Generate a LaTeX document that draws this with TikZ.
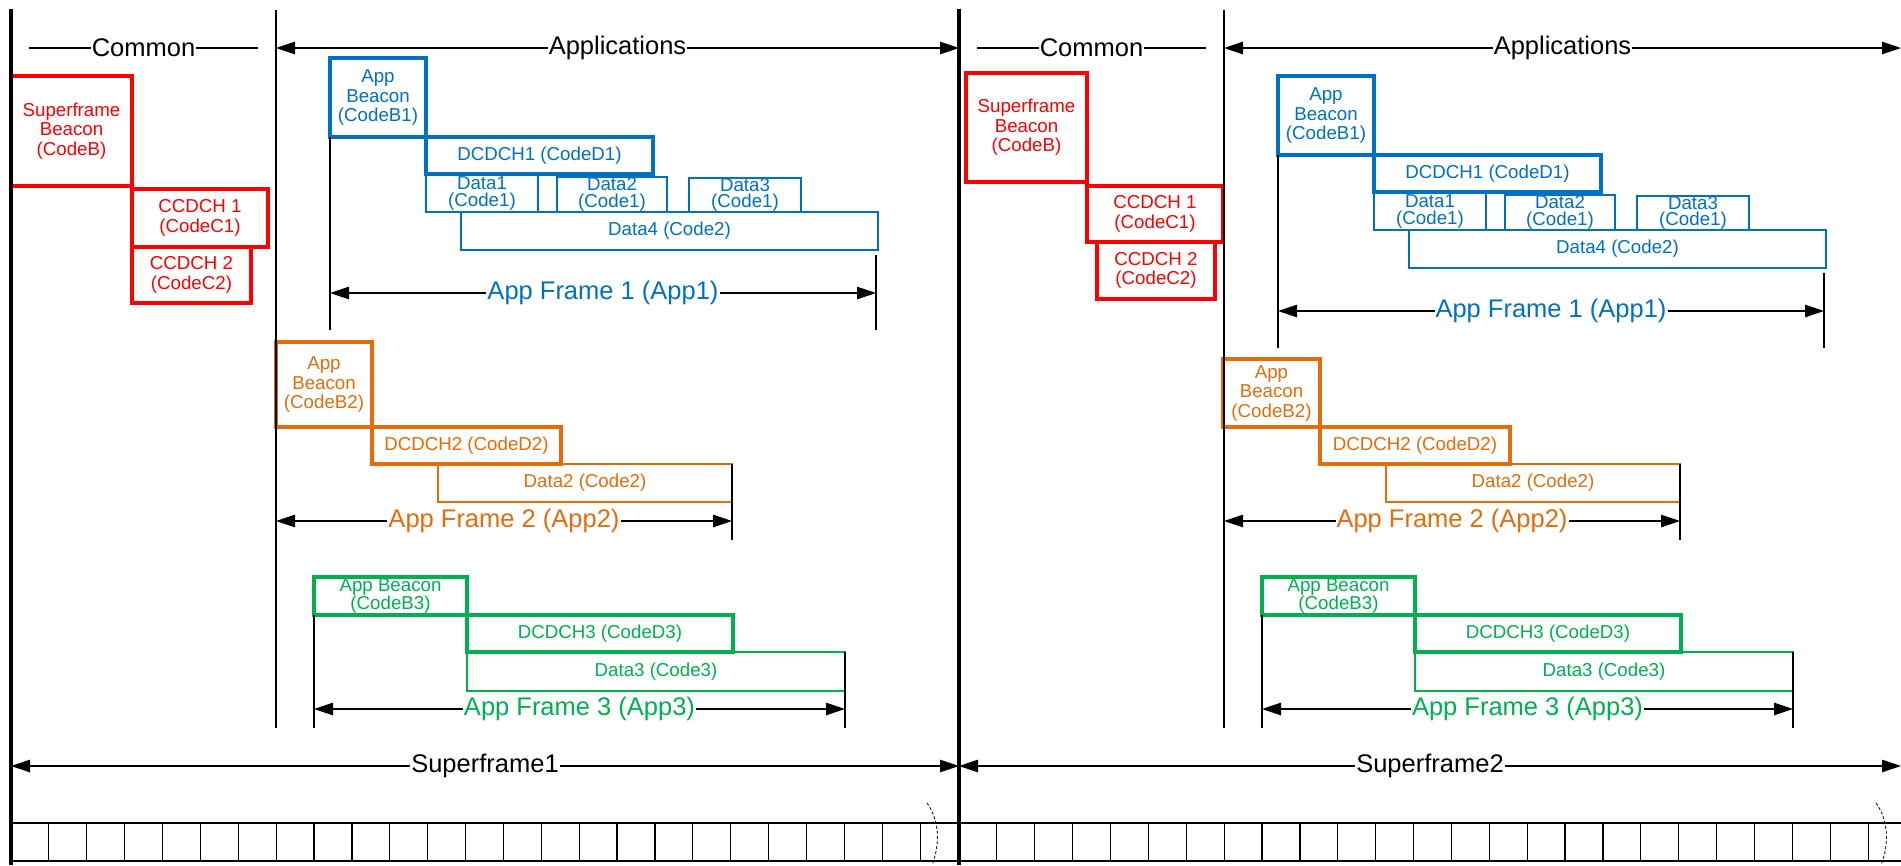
\documentclass[tikz,border=0pt]{standalone}
\usepackage{fontspec}
\setmainfont{Liberation Sans}
\usetikzlibrary{arrows.meta}

\definecolor{sfred}{RGB}{255,0,0}
\definecolor{appblue}{RGB}{0,112,192}
\definecolor{apporange}{RGB}{228,108,10}
\definecolor{appgreen}{RGB}{0,176,80}

\tikzset{
  chanbox/.style={draw=#1, text=#1, line width=3.3pt, inner sep=0pt, outer sep=0pt, align=center, font=\fontsize{18.7}{19.5}\selectfont},
  slotbox/.style={draw=#1, text=#1, line width=1.2pt, inner sep=0pt, outer sep=0pt, align=center, font=\fontsize{18.7}{19.5}\selectfont},
  tightlead/.style={font=\fontsize{18.7}{16.5}\selectfont},
  biglabel/.style={font=\fontsize{25.5}{25.5}\selectfont, fill=white, inner sep=1pt},
  spanarrow/.style={line width=1.2pt, {Triangle[length=19pt,width=12.5pt]}-{Triangle[length=19pt,width=12.5pt]}},
  thinrule/.style={line width=1.2pt},
  thickrule/.style={line width=3.3pt},
}

\begin{document}
\begin{tikzpicture}[x=1pt,y=-1pt]
	\path[use as bounding box, fill=white] (0,0) rectangle (1901,865);

	% end points of rules and arrows
	\foreach \n/\x/\y in {barAt/11/9, barAb/11/865, barBt/959/9, barBb/959/865,
		divAt/276/10, divAb/276/728, divBt/1224/10, divBb/1224/728,
		cmA1/29/48, cmA2/258/48, apA1/276/48, apA2/959/48,
		cmB1/977/48, cmB2/1206/48, apB1/1224/48, apB2/1901/48,
		sf0/11/766, sf1/959/766, sf2/1901/766,
		fA1a/330/293, fA1b/876/293, fA1L/330/330, fA1Rt/876/255, fA1Rb/876/330,
		fA2a/276/521, fA2b/732/521, fA2Rt/732/464, fA2Rb/732/540,
		fA3a/314/709, fA3b/845/709, fA3L/314/728, fA3Rt/845/652, fA3Rb/845/728,
		fB1a/1278/311, fB1b/1824/311, fB1L/1278/348, fB1Rt/1824/273, fB1Rb/1824/348,
		fB2a/1224/521, fB2b/1680/521, fB2Rt/1680/464, fB2Rb/1680/540,
		fB3a/1262/709, fB3b/1793/709, fB3L/1262/728, fB3Rt/1793/652, fB3Rb/1793/728}
	{	\coordinate (\n) at (\x,\y);
	}

	% superframe 1
	\node[chanbox=sfred, minimum width=121pt, minimum height=110pt] (sbA)  at (71.5,131)  {Superframe\\Beacon\\(CodeB)};
	\node[chanbox=sfred, minimum width=136pt, minimum height=58pt]  (ccA1) at (200,218)   {CCDCH 1\\(CodeC1)};
	\node[chanbox=sfred, minimum width=119pt, minimum height=56pt]  (ccA2) at (191.5,275) {CCDCH 2\\(CodeC2)};

	\node[chanbox=appblue, minimum width=96pt, minimum height=79pt]  (bcnA1) at (378,97.5)  {App\\Beacon\\(CodeB1)};
	\node[chanbox=appblue, minimum width=227pt, minimum height=37pt] (dcA1)  at (539.5,155.5) {DCDCH1 (CodeD1)};
	\node[slotbox=appblue, tightlead, minimum width=112pt, minimum height=37pt] (dA1) at (482,193.5) {Data1\\(Code1)};
	\node[slotbox=appblue, tightlead, minimum width=110pt, minimum height=35pt] (dA2) at (612,194.5) {Data2\\(Code1)};
	\node[slotbox=appblue, tightlead, minimum width=112pt, minimum height=34pt] (dA3) at (745,195)   {Data3\\(Code1)};
	\node[slotbox=appblue, minimum width=417pt, minimum height=38pt] (dA4) at (669.5,231) {Data4 (Code2)};

	\node[chanbox=apporange, minimum width=96pt, minimum height=85pt]  (bcnA2) at (324,384.5)   {App\\Beacon\\(CodeB2)};
	\node[chanbox=apporange, minimum width=189pt, minimum height=37pt] (dcA2)  at (466.5,445.5) {DCDCH2 (CodeD2)};
	\node[slotbox=apporange, minimum width=294pt, minimum height=38pt] (dA5)   at (585,483)     {Data2 (Code2)};

	\node[chanbox=appgreen, tightlead, minimum width=153pt, minimum height=38pt] (bcnA3) at (390.5,596) {App Beacon\\(CodeB3)};
	\node[chanbox=appgreen, minimum width=266pt, minimum height=37pt] (dcA3) at (600,633.5) {DCDCH3 (CodeD3)};
	\node[slotbox=appgreen, minimum width=378pt, minimum height=39pt] (dA6)  at (656,671.5) {Data3 (Code3)};

	% superframe 2
	\node[chanbox=sfred, minimum width=121pt, minimum height=109pt] (sbB)  at (1026.5,127.5) {Superframe\\Beacon\\(CodeB)};
	\node[chanbox=sfred, minimum width=136pt, minimum height=56pt]  (ccB1) at (1155,214)     {CCDCH 1\\(CodeC1)};
	\node[chanbox=sfred, minimum width=118pt, minimum height=57pt]  (ccB2) at (1156,270.5)   {CCDCH 2\\(CodeC2)};

	\node[chanbox=appblue, minimum width=96pt, minimum height=79pt]  (bcnB1) at (1326,115.5)  {App\\Beacon\\(CodeB1)};
	\node[chanbox=appblue, minimum width=227pt, minimum height=37pt] (dcB1)  at (1487.5,173.5) {DCDCH1 (CodeD1)};
	\node[slotbox=appblue, tightlead, minimum width=112pt, minimum height=37pt] (dB1) at (1430,211.5) {Data1\\(Code1)};
	\node[slotbox=appblue, tightlead, minimum width=110pt, minimum height=35pt] (dB2) at (1560,212.5) {Data2\\(Code1)};
	\node[slotbox=appblue, tightlead, minimum width=112pt, minimum height=34pt] (dB3) at (1693,213)   {Data3\\(Code1)};
	\node[slotbox=appblue, minimum width=417pt, minimum height=38pt] (dB4) at (1617.5,249) {Data4 (Code2)};

	\node[chanbox=apporange, minimum width=97pt, minimum height=68pt]  (bcnB2) at (1271.5,393) {App\\Beacon\\(CodeB2)};
	\node[chanbox=apporange, minimum width=190pt, minimum height=37pt] (dcB2)  at (1415,445.5) {DCDCH2 (CodeD2)};
	\node[slotbox=apporange, minimum width=294pt, minimum height=38pt] (dB5)   at (1533,483)   {Data2 (Code2)};

	\node[chanbox=appgreen, tightlead, minimum width=153pt, minimum height=38pt] (bcnB3) at (1338.5,596) {App Beacon\\(CodeB3)};
	\node[chanbox=appgreen, minimum width=266pt, minimum height=37pt] (dcB3) at (1548,633.5) {DCDCH3 (CodeD3)};
	\node[slotbox=appgreen, minimum width=378pt, minimum height=39pt] (dB6)  at (1604,671.5) {Data3 (Code3)};

	% vertical rules
	\foreach \u/\v in {barAt/barAb, barBt/barBb}
	{	\draw[thickrule] (\u) -- (\v);
	}
	\foreach \u/\v in {divAt/divAb, divBt/divBb, bcnA1.south west/fA1L, fA1Rt/fA1Rb, fA2Rt/fA2Rb,
		bcnA3.south west/fA3L, fA3Rt/fA3Rb, bcnB1.south west/fB1L, fB1Rt/fB1Rb, fB2Rt/fB2Rb,
		bcnB3.south west/fB3L, fB3Rt/fB3Rb}
	{	\draw[thinrule] (\u) -- (\v);
	}

	% labelled spans
	\foreach \u/\v in {cmA1/cmA2, cmB1/cmB2}
	{	\draw[thinrule] (\u) -- (\v) node[midway, biglabel] {Common};
	}
	\foreach \u/\v/\lab in {apA1/apA2/Applications, apB1/apB2/Applications, sf0/sf1/Superframe1, sf1/sf2/Superframe2}
	{	\draw[spanarrow] (\u) -- (\v) node[midway, biglabel] {\lab};
	}
	\def\framespans{fA1a/fA1b/appblue/App Frame 1 (App1), fA2a/fA2b/apporange/App Frame 2 (App2),
		fA3a/fA3b/appgreen/App Frame 3 (App3), fB1a/fB1b/appblue/App Frame 1 (App1),
		fB2a/fB2b/apporange/App Frame 2 (App2), fB3a/fB3b/appgreen/App Frame 3 (App3)}
	\foreach \u/\v/\c/\lab in \framespans
	{	\draw[spanarrow] (\u) -- (\v) node[midway, biglabel, text=\c] {\lab};
	}

	% slot grid
	\draw[line width=1.7pt] (11,823) -- (1901,823) (11,861) -- (1901,861);
	\foreach \i in {1,...,24}
	{	\draw[thinrule] (11+\i*37.88,823) -- (11+\i*37.88,861);
		\draw[thinrule] (959+\i*37.88,823) -- (959+\i*37.88,861);
	}
	\draw[dash pattern=on 3pt off 2pt, line width=0.8pt] (927,803) .. controls (941,822) and (939,848) .. (932,865);
	\draw[dash pattern=on 3pt off 2pt, line width=0.8pt] (1876,803) .. controls (1890,822) and (1888,848) .. (1881,865);
\end{tikzpicture}
\end{document}
